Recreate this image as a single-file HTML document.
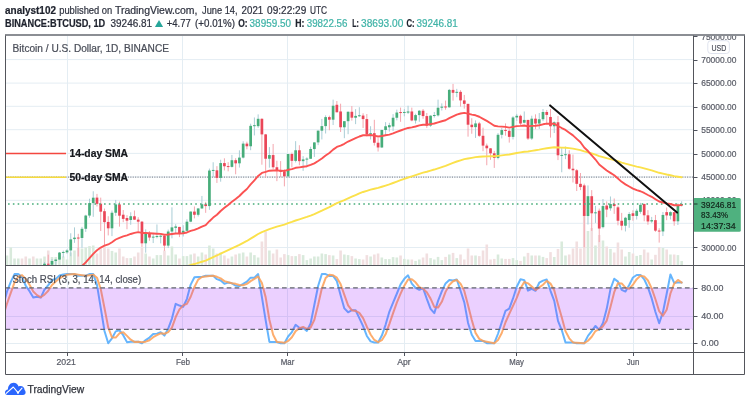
<!DOCTYPE html>
<html><head><meta charset="utf-8"><title>BTCUSD chart</title>
<style>html,body{margin:0;padding:0;background:#fff;width:750px;height:404px;overflow:hidden;font-family:"Liberation Sans",sans-serif}</style>
</head><body>
<svg width="750" height="404" viewBox="0 0 750 404" style="position:absolute;left:0;top:0;font-family:'Liberation Sans',sans-serif;filter:blur(0.35px)">
<defs>
<clipPath id="cm"><rect x="5.5" y="35.5" width="688.0" height="230.0"/></clipPath>
<clipPath id="cs"><rect x="5.5" y="265.5" width="688.0" height="87.0"/></clipPath>
</defs>
<rect x="0" y="0" width="750" height="404" fill="#ffffff"/>
<text x="5" y="13.8" font-size="10.5" fill="#1e222d" font-weight="bold" text-anchor="start" textLength="51" lengthAdjust="spacingAndGlyphs"  stroke="#1e222d" stroke-width="0.22">analyst102</text>
<text x="59.2" y="13.8" font-size="10.5" fill="#2f3340" font-weight="normal" text-anchor="start" textLength="53.1" lengthAdjust="spacingAndGlyphs"  stroke="#2f3340" stroke-width="0.22">published on</text>
<text x="114.9" y="13.8" font-size="10.5" fill="#2f3340" font-weight="normal" text-anchor="start" textLength="82.6" lengthAdjust="spacingAndGlyphs"  stroke="#2f3340" stroke-width="0.22">TradingView.com,</text>
<text x="202" y="13.8" font-size="10.5" fill="#2f3340" font-weight="normal" text-anchor="start" textLength="35.6" lengthAdjust="spacingAndGlyphs"  stroke="#2f3340" stroke-width="0.22">June 14,</text>
<text x="241.6" y="13.8" font-size="10.5" fill="#2f3340" font-weight="normal" text-anchor="start" textLength="21.6" lengthAdjust="spacingAndGlyphs"  stroke="#2f3340" stroke-width="0.22">2021</text>
<text x="267.1" y="13.8" font-size="10.5" fill="#2f3340" font-weight="normal" text-anchor="start" textLength="39.2" lengthAdjust="spacingAndGlyphs"  stroke="#2f3340" stroke-width="0.22">09:22:29</text>
<text x="309.9" y="13.8" font-size="10.5" fill="#2f3340" font-weight="normal" text-anchor="start" textLength="17.1" lengthAdjust="spacingAndGlyphs"  stroke="#2f3340" stroke-width="0.22">UTC</text>
<text x="5" y="27.3" font-size="10.6" fill="#1e222d" font-weight="bold" text-anchor="start" textLength="100.2" lengthAdjust="spacingAndGlyphs"  stroke="#1e222d" stroke-width="0.22">BINANCE:BTCUSD, 1D</text>
<text x="110.5" y="27.3" font-size="10.6" fill="#2f3340" font-weight="normal" text-anchor="start" textLength="41.6" lengthAdjust="spacingAndGlyphs"  stroke="#2f3340" stroke-width="0.22">39246.81</text>
<path d="M154.9 27 L159 19.9 L163.1 27 Z" fill="#26a69a"/>
<text x="166.7" y="27.3" font-size="10.6" fill="#2f3340" font-weight="normal" text-anchor="start" textLength="24.1" lengthAdjust="spacingAndGlyphs"  stroke="#2f3340" stroke-width="0.22">+4.77</text>
<text x="195.1" y="27.3" font-size="10.6" fill="#2f3340" font-weight="normal" text-anchor="start" textLength="39.8" lengthAdjust="spacingAndGlyphs"  stroke="#2f3340" stroke-width="0.22">(+0.01%)</text>
<text x="238.3" y="27.3" font-size="10.6" fill="#1e222d" font-weight="bold" text-anchor="start" textLength="9.4" lengthAdjust="spacingAndGlyphs"  stroke="#1e222d" stroke-width="0.22">O:</text>
<text x="249.6" y="27.3" font-size="10.6" fill="#3fb3a7" font-weight="normal" text-anchor="start" textLength="41.4" lengthAdjust="spacingAndGlyphs"  stroke="#3fb3a7" stroke-width="0.22">38959.50</text>
<text x="295.3" y="27.3" font-size="10.6" fill="#1e222d" font-weight="bold" text-anchor="start" textLength="9.2" lengthAdjust="spacingAndGlyphs"  stroke="#1e222d" stroke-width="0.22">H:</text>
<text x="306.7" y="27.3" font-size="10.6" fill="#3fb3a7" font-weight="normal" text-anchor="start" textLength="40.8" lengthAdjust="spacingAndGlyphs"  stroke="#3fb3a7" stroke-width="0.22">39822.56</text>
<text x="352.3" y="27.3" font-size="10.6" fill="#1e222d" font-weight="bold" text-anchor="start" textLength="6.6" lengthAdjust="spacingAndGlyphs"  stroke="#1e222d" stroke-width="0.22">L:</text>
<text x="361.1" y="27.3" font-size="10.6" fill="#3fb3a7" font-weight="normal" text-anchor="start" textLength="42.2" lengthAdjust="spacingAndGlyphs"  stroke="#3fb3a7" stroke-width="0.22">38693.00</text>
<text x="406.5" y="27.3" font-size="10.6" fill="#1e222d" font-weight="bold" text-anchor="start" textLength="8.2" lengthAdjust="spacingAndGlyphs"  stroke="#1e222d" stroke-width="0.22">C:</text>
<text x="416.5" y="27.3" font-size="10.6" fill="#3fb3a7" font-weight="normal" text-anchor="start" textLength="41.2" lengthAdjust="spacingAndGlyphs"  stroke="#3fb3a7" stroke-width="0.22">39246.81</text>
<line x1="67.5" y1="35.5" x2="67.5" y2="352.5" stroke="#e4edf3" stroke-width="1"/>
<line x1="182.5" y1="35.5" x2="182.5" y2="352.5" stroke="#e4edf3" stroke-width="1"/>
<line x1="287.5" y1="35.5" x2="287.5" y2="352.5" stroke="#e4edf3" stroke-width="1"/>
<line x1="404.5" y1="35.5" x2="404.5" y2="352.5" stroke="#e4edf3" stroke-width="1"/>
<line x1="516.5" y1="35.5" x2="516.5" y2="352.5" stroke="#e4edf3" stroke-width="1"/>
<line x1="633.5" y1="35.5" x2="633.5" y2="352.5" stroke="#e4edf3" stroke-width="1"/>
<line x1="5.5" y1="59.6" x2="693.5" y2="59.6" stroke="#e4edf3" stroke-width="1"/>
<line x1="5.5" y1="83.1" x2="693.5" y2="83.1" stroke="#e4edf3" stroke-width="1"/>
<line x1="5.5" y1="106.3" x2="693.5" y2="106.3" stroke="#e4edf3" stroke-width="1"/>
<line x1="5.5" y1="129.7" x2="693.5" y2="129.7" stroke="#e4edf3" stroke-width="1"/>
<line x1="5.5" y1="153.4" x2="693.5" y2="153.4" stroke="#e4edf3" stroke-width="1"/>
<line x1="5.5" y1="176.9" x2="693.5" y2="176.9" stroke="#e4edf3" stroke-width="1"/>
<line x1="5.5" y1="200.3" x2="693.5" y2="200.3" stroke="#e4edf3" stroke-width="1"/>
<line x1="5.5" y1="223.3" x2="693.5" y2="223.3" stroke="#e4edf3" stroke-width="1"/>
<line x1="5.5" y1="247.5" x2="693.5" y2="247.5" stroke="#e4edf3" stroke-width="1"/>
<line x1="5.5" y1="343.5" x2="693.5" y2="343.5" stroke="#e4edf3" stroke-width="1"/>
<line x1="5.5" y1="316.5" x2="693.5" y2="316.5" stroke="#e4edf3" stroke-width="1"/>
<line x1="5.5" y1="288.5" x2="693.5" y2="288.5" stroke="#e4edf3" stroke-width="1"/>
<g clip-path="url(#cm)">
<rect x="1.98" y="259.68" width="2.6" height="5.82" fill="#d9eadc"/>
<rect x="5.73" y="255.50" width="2.6" height="10.00" fill="#d9eadc"/>
<rect x="9.48" y="247.50" width="2.6" height="18.00" fill="#d9eadc"/>
<rect x="13.23" y="258.50" width="2.6" height="7.00" fill="#d9eadc"/>
<rect x="16.98" y="258.50" width="2.6" height="7.00" fill="#d9eadc"/>
<rect x="20.72" y="258.50" width="2.6" height="7.00" fill="#f1dfe0"/>
<rect x="24.47" y="256.50" width="2.6" height="9.00" fill="#f1dfe0"/>
<rect x="28.22" y="258.50" width="2.6" height="7.00" fill="#d9eadc"/>
<rect x="31.97" y="256.50" width="2.6" height="9.00" fill="#f1dfe0"/>
<rect x="35.72" y="258.50" width="2.6" height="7.00" fill="#d9eadc"/>
<rect x="39.46" y="258.50" width="2.6" height="7.00" fill="#d9eadc"/>
<rect x="43.21" y="256.50" width="2.6" height="9.00" fill="#d9eadc"/>
<rect x="46.96" y="250.50" width="2.6" height="15.00" fill="#f1dfe0"/>
<rect x="50.71" y="257.00" width="2.6" height="8.50" fill="#d9eadc"/>
<rect x="54.46" y="257.00" width="2.6" height="8.50" fill="#d9eadc"/>
<rect x="58.20" y="257.50" width="2.6" height="8.00" fill="#d9eadc"/>
<rect x="61.95" y="256.50" width="2.6" height="9.00" fill="#d9eadc"/>
<rect x="65.70" y="259.50" width="2.6" height="6.00" fill="#d9eadc"/>
<rect x="69.45" y="252.50" width="2.6" height="13.00" fill="#d9eadc"/>
<rect x="73.20" y="250.50" width="2.6" height="15.00" fill="#d9eadc"/>
<rect x="76.94" y="247.80" width="2.6" height="17.70" fill="#f1dfe0"/>
<rect x="80.69" y="248.50" width="2.6" height="17.00" fill="#d9eadc"/>
<rect x="84.44" y="247.50" width="2.6" height="18.00" fill="#d9eadc"/>
<rect x="88.19" y="246.10" width="2.6" height="19.40" fill="#d9eadc"/>
<rect x="91.94" y="245.50" width="2.6" height="20.00" fill="#d9eadc"/>
<rect x="95.68" y="253.50" width="2.6" height="12.00" fill="#f1dfe0"/>
<rect x="99.43" y="248.50" width="2.6" height="17.00" fill="#f1dfe0"/>
<rect x="103.18" y="246.50" width="2.6" height="19.00" fill="#f1dfe0"/>
<rect x="106.93" y="248.50" width="2.6" height="17.00" fill="#f1dfe0"/>
<rect x="110.68" y="250.90" width="2.6" height="14.60" fill="#d9eadc"/>
<rect x="114.42" y="252.50" width="2.6" height="13.00" fill="#d9eadc"/>
<rect x="118.17" y="248.50" width="2.6" height="17.00" fill="#f1dfe0"/>
<rect x="121.92" y="256.50" width="2.6" height="9.00" fill="#f1dfe0"/>
<rect x="125.67" y="258.10" width="2.6" height="7.40" fill="#f1dfe0"/>
<rect x="129.42" y="258.10" width="2.6" height="7.40" fill="#d9eadc"/>
<rect x="133.16" y="256.50" width="2.6" height="9.00" fill="#f1dfe0"/>
<rect x="136.91" y="252.50" width="2.6" height="13.00" fill="#f1dfe0"/>
<rect x="140.66" y="247.50" width="2.6" height="18.00" fill="#f1dfe0"/>
<rect x="144.41" y="253.50" width="2.6" height="12.00" fill="#d9eadc"/>
<rect x="148.16" y="256.50" width="2.6" height="9.00" fill="#f1dfe0"/>
<rect x="151.90" y="258.50" width="2.6" height="7.00" fill="#d9eadc"/>
<rect x="155.65" y="255.10" width="2.6" height="10.40" fill="#d9eadc"/>
<rect x="159.40" y="255.10" width="2.6" height="10.40" fill="#d9eadc"/>
<rect x="163.15" y="250.50" width="2.6" height="15.00" fill="#f1dfe0"/>
<rect x="166.90" y="255.50" width="2.6" height="10.00" fill="#d9eadc"/>
<rect x="170.64" y="246.50" width="2.6" height="19.00" fill="#d9eadc"/>
<rect x="174.39" y="254.50" width="2.6" height="11.00" fill="#d9eadc"/>
<rect x="178.14" y="258.50" width="2.6" height="7.00" fill="#f1dfe0"/>
<rect x="181.89" y="256.10" width="2.6" height="9.40" fill="#d9eadc"/>
<rect x="185.64" y="256.10" width="2.6" height="9.40" fill="#d9eadc"/>
<rect x="189.38" y="254.50" width="2.6" height="11.00" fill="#d9eadc"/>
<rect x="193.13" y="253.50" width="2.6" height="12.00" fill="#f1dfe0"/>
<rect x="196.88" y="256.50" width="2.6" height="9.00" fill="#d9eadc"/>
<rect x="200.63" y="252.50" width="2.6" height="13.00" fill="#d9eadc"/>
<rect x="204.38" y="254.50" width="2.6" height="11.00" fill="#f1dfe0"/>
<rect x="208.12" y="245.50" width="2.6" height="20.00" fill="#d9eadc"/>
<rect x="211.87" y="248.50" width="2.6" height="17.00" fill="#d9eadc"/>
<rect x="215.62" y="253.50" width="2.6" height="12.00" fill="#f1dfe0"/>
<rect x="219.37" y="252.50" width="2.6" height="13.00" fill="#d9eadc"/>
<rect x="223.12" y="255.50" width="2.6" height="10.00" fill="#f1dfe0"/>
<rect x="226.86" y="258.50" width="2.6" height="7.00" fill="#f1dfe0"/>
<rect x="230.61" y="256.50" width="2.6" height="9.00" fill="#d9eadc"/>
<rect x="234.36" y="254.50" width="2.6" height="11.00" fill="#f1dfe0"/>
<rect x="238.11" y="253.50" width="2.6" height="12.00" fill="#d9eadc"/>
<rect x="241.86" y="252.50" width="2.6" height="13.00" fill="#d9eadc"/>
<rect x="245.60" y="256.50" width="2.6" height="9.00" fill="#f1dfe0"/>
<rect x="249.35" y="252.50" width="2.6" height="13.00" fill="#d9eadc"/>
<rect x="253.10" y="255.10" width="2.6" height="10.40" fill="#d9eadc"/>
<rect x="256.85" y="257.50" width="2.6" height="8.00" fill="#d9eadc"/>
<rect x="260.60" y="241.50" width="2.6" height="24.00" fill="#f1dfe0"/>
<rect x="264.34" y="231.50" width="2.6" height="34.00" fill="#f1dfe0"/>
<rect x="268.09" y="250.50" width="2.6" height="15.00" fill="#d9eadc"/>
<rect x="271.84" y="253.50" width="2.6" height="12.00" fill="#f1dfe0"/>
<rect x="275.59" y="249.50" width="2.6" height="16.00" fill="#f1dfe0"/>
<rect x="279.34" y="257.50" width="2.6" height="8.00" fill="#f1dfe0"/>
<rect x="283.08" y="254.10" width="2.6" height="11.40" fill="#f1dfe0"/>
<rect x="286.83" y="255.10" width="2.6" height="10.40" fill="#d9eadc"/>
<rect x="290.58" y="256.10" width="2.6" height="9.40" fill="#f1dfe0"/>
<rect x="294.33" y="256.10" width="2.6" height="9.40" fill="#d9eadc"/>
<rect x="298.08" y="254.10" width="2.6" height="11.40" fill="#f1dfe0"/>
<rect x="301.82" y="255.10" width="2.6" height="10.40" fill="#d9eadc"/>
<rect x="305.57" y="260.10" width="2.6" height="5.40" fill="#d9eadc"/>
<rect x="309.32" y="258.50" width="2.6" height="7.00" fill="#d9eadc"/>
<rect x="313.07" y="256.50" width="2.6" height="9.00" fill="#d9eadc"/>
<rect x="316.82" y="256.50" width="2.6" height="9.00" fill="#d9eadc"/>
<rect x="320.56" y="253.50" width="2.6" height="12.00" fill="#d9eadc"/>
<rect x="324.31" y="254.10" width="2.6" height="11.40" fill="#d9eadc"/>
<rect x="328.06" y="255.10" width="2.6" height="10.40" fill="#f1dfe0"/>
<rect x="331.81" y="255.50" width="2.6" height="10.00" fill="#d9eadc"/>
<rect x="335.56" y="259.10" width="2.6" height="6.40" fill="#f1dfe0"/>
<rect x="339.30" y="250.50" width="2.6" height="15.00" fill="#f1dfe0"/>
<rect x="343.05" y="254.50" width="2.6" height="11.00" fill="#d9eadc"/>
<rect x="346.80" y="255.10" width="2.6" height="10.40" fill="#d9eadc"/>
<rect x="350.55" y="256.10" width="2.6" height="9.40" fill="#f1dfe0"/>
<rect x="354.30" y="258.50" width="2.6" height="7.00" fill="#d9eadc"/>
<rect x="358.04" y="259.10" width="2.6" height="6.40" fill="#d9eadc"/>
<rect x="361.79" y="259.50" width="2.6" height="6.00" fill="#f1dfe0"/>
<rect x="365.54" y="255.10" width="2.6" height="10.40" fill="#f1dfe0"/>
<rect x="369.29" y="256.50" width="2.6" height="9.00" fill="#d9eadc"/>
<rect x="373.04" y="254.50" width="2.6" height="11.00" fill="#f1dfe0"/>
<rect x="376.78" y="253.50" width="2.6" height="12.00" fill="#f1dfe0"/>
<rect x="380.53" y="257.50" width="2.6" height="8.00" fill="#d9eadc"/>
<rect x="384.28" y="259.10" width="2.6" height="6.40" fill="#d9eadc"/>
<rect x="388.03" y="259.10" width="2.6" height="6.40" fill="#d9eadc"/>
<rect x="391.78" y="257.10" width="2.6" height="8.40" fill="#d9eadc"/>
<rect x="395.52" y="257.50" width="2.6" height="8.00" fill="#d9eadc"/>
<rect x="399.27" y="255.50" width="2.6" height="10.00" fill="#f1dfe0"/>
<rect x="403.02" y="258.90" width="2.6" height="6.60" fill="#d9eadc"/>
<rect x="406.77" y="259.50" width="2.6" height="6.00" fill="#d9eadc"/>
<rect x="410.52" y="259.50" width="2.6" height="6.00" fill="#f1dfe0"/>
<rect x="414.26" y="260.90" width="2.6" height="4.60" fill="#d9eadc"/>
<rect x="418.01" y="259.50" width="2.6" height="6.00" fill="#d9eadc"/>
<rect x="421.76" y="257.50" width="2.6" height="8.00" fill="#f1dfe0"/>
<rect x="425.51" y="253.50" width="2.6" height="12.00" fill="#f1dfe0"/>
<rect x="429.26" y="258.10" width="2.6" height="7.40" fill="#d9eadc"/>
<rect x="433.00" y="259.50" width="2.6" height="6.00" fill="#d9eadc"/>
<rect x="436.75" y="256.90" width="2.6" height="8.60" fill="#d9eadc"/>
<rect x="440.50" y="260.10" width="2.6" height="5.40" fill="#d9eadc"/>
<rect x="444.25" y="256.90" width="2.6" height="8.60" fill="#f1dfe0"/>
<rect x="448.00" y="254.50" width="2.6" height="11.00" fill="#d9eadc"/>
<rect x="451.74" y="252.90" width="2.6" height="12.60" fill="#f1dfe0"/>
<rect x="455.49" y="258.10" width="2.6" height="7.40" fill="#d9eadc"/>
<rect x="459.24" y="254.50" width="2.6" height="11.00" fill="#f1dfe0"/>
<rect x="462.99" y="259.50" width="2.6" height="6.00" fill="#f1dfe0"/>
<rect x="466.74" y="248.50" width="2.6" height="17.00" fill="#f1dfe0"/>
<rect x="470.48" y="255.50" width="2.6" height="10.00" fill="#f1dfe0"/>
<rect x="474.23" y="255.50" width="2.6" height="10.00" fill="#d9eadc"/>
<rect x="477.98" y="256.10" width="2.6" height="9.40" fill="#f1dfe0"/>
<rect x="481.73" y="250.50" width="2.6" height="15.00" fill="#f1dfe0"/>
<rect x="485.48" y="244.50" width="2.6" height="21.00" fill="#f1dfe0"/>
<rect x="489.22" y="259.50" width="2.6" height="6.00" fill="#f1dfe0"/>
<rect x="492.97" y="258.90" width="2.6" height="6.60" fill="#f1dfe0"/>
<rect x="496.72" y="254.50" width="2.6" height="11.00" fill="#d9eadc"/>
<rect x="500.47" y="258.50" width="2.6" height="7.00" fill="#d9eadc"/>
<rect x="504.22" y="258.90" width="2.6" height="6.60" fill="#f1dfe0"/>
<rect x="507.96" y="258.90" width="2.6" height="6.60" fill="#f1dfe0"/>
<rect x="511.71" y="258.10" width="2.6" height="7.40" fill="#d9eadc"/>
<rect x="515.46" y="260.10" width="2.6" height="5.40" fill="#d9eadc"/>
<rect x="519.21" y="260.90" width="2.6" height="4.60" fill="#f1dfe0"/>
<rect x="522.96" y="256.50" width="2.6" height="9.00" fill="#d9eadc"/>
<rect x="526.70" y="252.90" width="2.6" height="12.60" fill="#f1dfe0"/>
<rect x="530.45" y="255.50" width="2.6" height="10.00" fill="#d9eadc"/>
<rect x="534.20" y="255.50" width="2.6" height="10.00" fill="#f1dfe0"/>
<rect x="537.95" y="255.50" width="2.6" height="10.00" fill="#d9eadc"/>
<rect x="541.70" y="256.90" width="2.6" height="8.60" fill="#d9eadc"/>
<rect x="545.44" y="258.10" width="2.6" height="7.40" fill="#f1dfe0"/>
<rect x="549.19" y="252.10" width="2.6" height="13.40" fill="#f1dfe0"/>
<rect x="552.94" y="257.00" width="2.6" height="8.50" fill="#d9eadc"/>
<rect x="556.69" y="249.00" width="2.6" height="16.50" fill="#f1dfe0"/>
<rect x="560.44" y="241.50" width="2.6" height="24.00" fill="#d9eadc"/>
<rect x="564.18" y="255.50" width="2.6" height="10.00" fill="#d9eadc"/>
<rect x="567.93" y="254.50" width="2.6" height="11.00" fill="#f1dfe0"/>
<rect x="571.68" y="248.50" width="2.6" height="17.00" fill="#f1dfe0"/>
<rect x="575.43" y="241.50" width="2.6" height="24.00" fill="#f1dfe0"/>
<rect x="579.18" y="248.50" width="2.6" height="17.00" fill="#f1dfe0"/>
<rect x="582.92" y="213.50" width="2.6" height="52.00" fill="#f1dfe0"/>
<rect x="586.67" y="231.00" width="2.6" height="34.50" fill="#d9eadc"/>
<rect x="590.42" y="228.00" width="2.6" height="37.50" fill="#f1dfe0"/>
<rect x="594.17" y="245.50" width="2.6" height="20.00" fill="#d9eadc"/>
<rect x="597.92" y="235.00" width="2.6" height="30.50" fill="#f1dfe0"/>
<rect x="601.66" y="240.50" width="2.6" height="25.00" fill="#d9eadc"/>
<rect x="605.41" y="246.50" width="2.6" height="19.00" fill="#f1dfe0"/>
<rect x="609.16" y="248.90" width="2.6" height="16.60" fill="#d9eadc"/>
<rect x="612.91" y="252.50" width="2.6" height="13.00" fill="#f1dfe0"/>
<rect x="616.66" y="242.50" width="2.6" height="23.00" fill="#f1dfe0"/>
<rect x="620.40" y="249.50" width="2.6" height="16.00" fill="#f1dfe0"/>
<rect x="624.15" y="256.50" width="2.6" height="9.00" fill="#d9eadc"/>
<rect x="627.90" y="252.00" width="2.6" height="13.50" fill="#d9eadc"/>
<rect x="631.65" y="253.50" width="2.6" height="12.00" fill="#f1dfe0"/>
<rect x="635.40" y="255.90" width="2.6" height="9.60" fill="#d9eadc"/>
<rect x="639.14" y="255.02" width="2.6" height="10.48" fill="#d9eadc"/>
<rect x="642.89" y="249.50" width="2.6" height="16.00" fill="#f1dfe0"/>
<rect x="646.64" y="252.50" width="2.6" height="13.00" fill="#f1dfe0"/>
<rect x="650.39" y="259.50" width="2.6" height="6.00" fill="#d9eadc"/>
<rect x="654.14" y="254.80" width="2.6" height="10.70" fill="#f1dfe0"/>
<rect x="657.88" y="247.00" width="2.6" height="18.50" fill="#f1dfe0"/>
<rect x="661.63" y="248.00" width="2.6" height="17.50" fill="#d9eadc"/>
<rect x="665.38" y="249.50" width="2.6" height="16.00" fill="#f1dfe0"/>
<rect x="669.13" y="254.50" width="2.6" height="11.00" fill="#d9eadc"/>
<rect x="672.88" y="254.50" width="2.6" height="11.00" fill="#f1dfe0"/>
<rect x="676.62" y="255.10" width="2.6" height="10.40" fill="#d9eadc"/>
<rect x="680.37" y="261.00" width="2.6" height="4.50" fill="#d9eadc"/>
</g>
<line x1="5.5" y1="177.2" x2="693.5" y2="177.2" stroke="#8b8e99" stroke-width="1.3" stroke-dasharray="1.1 1.3"/>
<g clip-path="url(#cm)">
<line x1="3.28" y1="296.20" x2="3.28" y2="298.63" stroke="#a9cdd6" stroke-width="1"/>
<rect x="1.93" y="296.73" width="2.7" height="1.00" fill="#47ad7a"/>
<line x1="7.03" y1="286.87" x2="7.03" y2="297.56" stroke="#a9cdd6" stroke-width="1"/>
<rect x="5.68" y="287.92" width="2.7" height="8.95" fill="#47ad7a"/>
<line x1="10.78" y1="276.37" x2="10.78" y2="288.41" stroke="#a9cdd6" stroke-width="1"/>
<rect x="9.43" y="281.07" width="2.7" height="6.85" fill="#47ad7a"/>
<line x1="14.53" y1="278.78" x2="14.53" y2="283.16" stroke="#a9cdd6" stroke-width="1"/>
<rect x="13.18" y="279.61" width="2.7" height="1.45" fill="#47ad7a"/>
<line x1="18.28" y1="274.63" x2="18.28" y2="281.29" stroke="#a9cdd6" stroke-width="1"/>
<rect x="16.93" y="276.27" width="2.7" height="3.35" fill="#47ad7a"/>
<line x1="22.02" y1="274.05" x2="22.02" y2="279.83" stroke="#f4a6ae" stroke-width="1"/>
<rect x="20.67" y="276.27" width="2.7" height="1.72" fill="#ea4658"/>
<line x1="25.77" y1="274.95" x2="25.77" y2="285.67" stroke="#f4a6ae" stroke-width="1"/>
<rect x="24.42" y="277.98" width="2.7" height="3.45" fill="#ea4658"/>
<line x1="29.52" y1="276.19" x2="29.52" y2="283.15" stroke="#a9cdd6" stroke-width="1"/>
<rect x="28.17" y="276.32" width="2.7" height="5.11" fill="#47ad7a"/>
<line x1="33.27" y1="274.96" x2="33.27" y2="281.99" stroke="#f4a6ae" stroke-width="1"/>
<rect x="31.92" y="276.32" width="2.7" height="2.71" fill="#ea4658"/>
<line x1="37.02" y1="276.39" x2="37.02" y2="281.51" stroke="#a9cdd6" stroke-width="1"/>
<rect x="35.67" y="276.70" width="2.7" height="2.33" fill="#47ad7a"/>
<line x1="40.76" y1="271.73" x2="40.76" y2="278.09" stroke="#a9cdd6" stroke-width="1"/>
<rect x="39.41" y="272.09" width="2.7" height="4.61" fill="#47ad7a"/>
<line x1="44.51" y1="261.99" x2="44.51" y2="273.08" stroke="#a9cdd6" stroke-width="1"/>
<rect x="43.16" y="263.74" width="2.7" height="8.35" fill="#47ad7a"/>
<line x1="48.26" y1="254.70" x2="48.26" y2="267.46" stroke="#f4a6ae" stroke-width="1"/>
<rect x="46.91" y="263.74" width="2.7" height="1.00" fill="#ea4658"/>
<line x1="52.01" y1="259.02" x2="52.01" y2="265.58" stroke="#a9cdd6" stroke-width="1"/>
<rect x="50.66" y="260.99" width="2.7" height="3.74" fill="#47ad7a"/>
<line x1="55.76" y1="259.44" x2="55.76" y2="266.61" stroke="#a9cdd6" stroke-width="1"/>
<rect x="54.41" y="259.56" width="2.7" height="1.43" fill="#47ad7a"/>
<line x1="59.50" y1="252.01" x2="59.50" y2="259.86" stroke="#a9cdd6" stroke-width="1"/>
<rect x="58.15" y="252.57" width="2.7" height="6.99" fill="#47ad7a"/>
<line x1="63.25" y1="250.58" x2="63.25" y2="257.38" stroke="#a9cdd6" stroke-width="1"/>
<rect x="61.90" y="251.96" width="2.7" height="1.00" fill="#47ad7a"/>
<line x1="67.00" y1="249.18" x2="67.00" y2="253.75" stroke="#a9cdd6" stroke-width="1"/>
<rect x="65.65" y="250.44" width="2.7" height="1.91" fill="#47ad7a"/>
<line x1="70.75" y1="233.28" x2="70.75" y2="256.21" stroke="#a9cdd6" stroke-width="1"/>
<rect x="69.40" y="239.38" width="2.7" height="11.06" fill="#47ad7a"/>
<line x1="74.50" y1="227.38" x2="74.50" y2="242.85" stroke="#a9cdd6" stroke-width="1"/>
<rect x="73.15" y="237.64" width="2.7" height="1.45" fill="#47ad7a"/>
<line x1="78.24" y1="233.80" x2="78.24" y2="256.49" stroke="#f4a6ae" stroke-width="1"/>
<rect x="76.89" y="237.54" width="2.7" height="1.00" fill="#ea4658"/>
<line x1="81.99" y1="226.86" x2="81.99" y2="247.77" stroke="#a9cdd6" stroke-width="1"/>
<rect x="80.64" y="228.79" width="2.7" height="9.19" fill="#47ad7a"/>
<line x1="85.74" y1="214.77" x2="85.74" y2="231.89" stroke="#a9cdd6" stroke-width="1"/>
<rect x="84.39" y="215.57" width="2.7" height="13.22" fill="#47ad7a"/>
<line x1="89.49" y1="198.71" x2="89.49" y2="217.77" stroke="#a9cdd6" stroke-width="1"/>
<rect x="88.14" y="203.08" width="2.7" height="12.48" fill="#47ad7a"/>
<line x1="93.24" y1="191.28" x2="93.24" y2="216.83" stroke="#a9cdd6" stroke-width="1"/>
<rect x="91.89" y="197.69" width="2.7" height="5.39" fill="#47ad7a"/>
<line x1="96.98" y1="193.90" x2="96.98" y2="206.51" stroke="#f4a6ae" stroke-width="1"/>
<rect x="95.63" y="197.61" width="2.7" height="6.24" fill="#ea4658"/>
<line x1="100.73" y1="197.61" x2="100.73" y2="231.03" stroke="#f4a6ae" stroke-width="1"/>
<rect x="99.38" y="203.70" width="2.7" height="7.97" fill="#ea4658"/>
<line x1="104.48" y1="208.56" x2="104.48" y2="245.33" stroke="#f4a6ae" stroke-width="1"/>
<rect x="103.13" y="211.20" width="2.7" height="10.92" fill="#ea4658"/>
<line x1="108.23" y1="216.23" x2="108.23" y2="235.43" stroke="#f4a6ae" stroke-width="1"/>
<rect x="106.88" y="221.94" width="2.7" height="6.37" fill="#ea4658"/>
<line x1="111.98" y1="210.50" x2="111.98" y2="236.14" stroke="#a9cdd6" stroke-width="1"/>
<rect x="110.63" y="212.74" width="2.7" height="15.57" fill="#47ad7a"/>
<line x1="115.72" y1="199.95" x2="115.72" y2="215.89" stroke="#a9cdd6" stroke-width="1"/>
<rect x="114.37" y="204.43" width="2.7" height="8.31" fill="#47ad7a"/>
<line x1="119.47" y1="201.61" x2="119.47" y2="226.64" stroke="#f4a6ae" stroke-width="1"/>
<rect x="118.12" y="204.43" width="2.7" height="11.27" fill="#ea4658"/>
<line x1="123.22" y1="210.03" x2="123.22" y2="222.19" stroke="#f4a6ae" stroke-width="1"/>
<rect x="121.87" y="214.72" width="2.7" height="4.17" fill="#ea4658"/>
<line x1="126.97" y1="215.18" x2="126.97" y2="229.25" stroke="#f4a6ae" stroke-width="1"/>
<rect x="125.62" y="218.00" width="2.7" height="2.67" fill="#ea4658"/>
<line x1="130.72" y1="212.29" x2="130.72" y2="224.80" stroke="#a9cdd6" stroke-width="1"/>
<rect x="129.37" y="216.21" width="2.7" height="3.78" fill="#47ad7a"/>
<line x1="134.46" y1="210.50" x2="134.46" y2="219.90" stroke="#f4a6ae" stroke-width="1"/>
<rect x="133.11" y="216.26" width="2.7" height="3.43" fill="#ea4658"/>
<line x1="138.21" y1="217.23" x2="138.21" y2="231.36" stroke="#f4a6ae" stroke-width="1"/>
<rect x="136.86" y="219.64" width="2.7" height="2.03" fill="#ea4658"/>
<line x1="141.96" y1="221.05" x2="141.96" y2="246.97" stroke="#f4a6ae" stroke-width="1"/>
<rect x="140.61" y="221.67" width="2.7" height="21.65" fill="#ea4658"/>
<line x1="145.71" y1="229.36" x2="145.71" y2="252.69" stroke="#a9cdd6" stroke-width="1"/>
<rect x="144.36" y="233.49" width="2.7" height="9.82" fill="#47ad7a"/>
<line x1="149.46" y1="231.10" x2="149.46" y2="240.78" stroke="#f4a6ae" stroke-width="1"/>
<rect x="148.11" y="233.47" width="2.7" height="4.09" fill="#ea4658"/>
<line x1="153.20" y1="232.90" x2="153.20" y2="243.08" stroke="#a9cdd6" stroke-width="1"/>
<rect x="151.85" y="236.63" width="2.7" height="1.00" fill="#47ad7a"/>
<line x1="156.95" y1="224.45" x2="156.95" y2="238.35" stroke="#a9cdd6" stroke-width="1"/>
<rect x="155.60" y="236.04" width="2.7" height="1.00" fill="#47ad7a"/>
<line x1="160.70" y1="233.61" x2="160.70" y2="243.38" stroke="#a9cdd6" stroke-width="1"/>
<rect x="159.35" y="235.73" width="2.7" height="1.00" fill="#47ad7a"/>
<line x1="164.45" y1="235.31" x2="164.45" y2="250.86" stroke="#f4a6ae" stroke-width="1"/>
<rect x="163.10" y="235.75" width="2.7" height="9.84" fill="#ea4658"/>
<line x1="168.20" y1="229.57" x2="168.20" y2="248.04" stroke="#a9cdd6" stroke-width="1"/>
<rect x="166.85" y="231.53" width="2.7" height="14.07" fill="#47ad7a"/>
<line x1="171.94" y1="207.31" x2="171.94" y2="238.32" stroke="#a9cdd6" stroke-width="1"/>
<rect x="170.59" y="227.37" width="2.7" height="4.14" fill="#47ad7a"/>
<line x1="175.69" y1="224.17" x2="175.69" y2="234.06" stroke="#a9cdd6" stroke-width="1"/>
<rect x="174.34" y="226.44" width="2.7" height="1.41" fill="#47ad7a"/>
<line x1="179.44" y1="226.91" x2="179.44" y2="237.12" stroke="#f4a6ae" stroke-width="1"/>
<rect x="178.09" y="226.91" width="2.7" height="6.80" fill="#ea4658"/>
<line x1="183.19" y1="225.19" x2="183.19" y2="236.54" stroke="#a9cdd6" stroke-width="1"/>
<rect x="181.84" y="230.77" width="2.7" height="2.05" fill="#47ad7a"/>
<line x1="186.94" y1="219.25" x2="186.94" y2="231.28" stroke="#a9cdd6" stroke-width="1"/>
<rect x="185.59" y="221.68" width="2.7" height="9.14" fill="#47ad7a"/>
<line x1="190.68" y1="211.38" x2="190.68" y2="222.16" stroke="#a9cdd6" stroke-width="1"/>
<rect x="189.33" y="211.59" width="2.7" height="10.06" fill="#47ad7a"/>
<line x1="194.43" y1="206.48" x2="194.43" y2="218.42" stroke="#f4a6ae" stroke-width="1"/>
<rect x="193.08" y="211.58" width="2.7" height="3.21" fill="#ea4658"/>
<line x1="198.18" y1="208.34" x2="198.18" y2="216.50" stroke="#a9cdd6" stroke-width="1"/>
<rect x="196.83" y="208.44" width="2.7" height="6.35" fill="#47ad7a"/>
<line x1="201.93" y1="195.94" x2="201.93" y2="208.79" stroke="#a9cdd6" stroke-width="1"/>
<rect x="200.58" y="204.24" width="2.7" height="4.21" fill="#47ad7a"/>
<line x1="205.68" y1="201.83" x2="205.68" y2="212.84" stroke="#f4a6ae" stroke-width="1"/>
<rect x="204.33" y="204.26" width="2.7" height="1.81" fill="#ea4658"/>
<line x1="209.42" y1="168.57" x2="209.42" y2="209.85" stroke="#a9cdd6" stroke-width="1"/>
<rect x="208.07" y="170.54" width="2.7" height="35.53" fill="#47ad7a"/>
<line x1="213.17" y1="162.25" x2="213.17" y2="177.16" stroke="#a9cdd6" stroke-width="1"/>
<rect x="211.82" y="169.93" width="2.7" height="1.00" fill="#47ad7a"/>
<line x1="216.92" y1="166.15" x2="216.92" y2="182.95" stroke="#f4a6ae" stroke-width="1"/>
<rect x="215.57" y="170.32" width="2.7" height="7.56" fill="#ea4658"/>
<line x1="220.67" y1="159.74" x2="220.67" y2="181.70" stroke="#a9cdd6" stroke-width="1"/>
<rect x="219.32" y="163.06" width="2.7" height="14.82" fill="#47ad7a"/>
<line x1="224.42" y1="158.30" x2="224.42" y2="170.42" stroke="#f4a6ae" stroke-width="1"/>
<rect x="223.07" y="163.07" width="2.7" height="3.19" fill="#ea4658"/>
<line x1="228.16" y1="162.21" x2="228.16" y2="171.35" stroke="#f4a6ae" stroke-width="1"/>
<rect x="226.81" y="166.05" width="2.7" height="1.00" fill="#ea4658"/>
<line x1="231.91" y1="154.91" x2="231.91" y2="167.54" stroke="#a9cdd6" stroke-width="1"/>
<rect x="230.56" y="160.21" width="2.7" height="6.66" fill="#47ad7a"/>
<line x1="235.66" y1="158.18" x2="235.66" y2="174.31" stroke="#f4a6ae" stroke-width="1"/>
<rect x="234.31" y="160.20" width="2.7" height="3.14" fill="#ea4658"/>
<line x1="239.41" y1="150.31" x2="239.41" y2="167.59" stroke="#a9cdd6" stroke-width="1"/>
<rect x="238.06" y="157.60" width="2.7" height="5.73" fill="#47ad7a"/>
<line x1="243.16" y1="141.27" x2="243.16" y2="158.48" stroke="#a9cdd6" stroke-width="1"/>
<rect x="241.81" y="143.61" width="2.7" height="14.00" fill="#47ad7a"/>
<line x1="246.90" y1="141.68" x2="246.90" y2="149.32" stroke="#f4a6ae" stroke-width="1"/>
<rect x="245.55" y="143.62" width="2.7" height="2.65" fill="#ea4658"/>
<line x1="250.65" y1="123.69" x2="250.65" y2="150.21" stroke="#a9cdd6" stroke-width="1"/>
<rect x="249.30" y="125.85" width="2.7" height="20.41" fill="#47ad7a"/>
<line x1="254.40" y1="117.44" x2="254.40" y2="135.43" stroke="#a9cdd6" stroke-width="1"/>
<rect x="253.05" y="125.18" width="2.7" height="1.00" fill="#47ad7a"/>
<line x1="258.15" y1="114.39" x2="258.15" y2="127.86" stroke="#a9cdd6" stroke-width="1"/>
<rect x="256.80" y="118.81" width="2.7" height="7.35" fill="#47ad7a"/>
<line x1="261.90" y1="118.34" x2="261.90" y2="164.69" stroke="#f4a6ae" stroke-width="1"/>
<rect x="260.55" y="118.79" width="2.7" height="15.59" fill="#ea4658"/>
<line x1="265.64" y1="133.93" x2="265.64" y2="177.49" stroke="#f4a6ae" stroke-width="1"/>
<rect x="264.29" y="134.38" width="2.7" height="24.36" fill="#ea4658"/>
<line x1="269.39" y1="147.10" x2="269.39" y2="167.66" stroke="#a9cdd6" stroke-width="1"/>
<rect x="268.04" y="155.06" width="2.7" height="3.68" fill="#47ad7a"/>
<line x1="273.14" y1="143.97" x2="273.14" y2="169.13" stroke="#f4a6ae" stroke-width="1"/>
<rect x="271.79" y="155.06" width="2.7" height="12.20" fill="#ea4658"/>
<line x1="276.89" y1="160.74" x2="276.89" y2="181.17" stroke="#f4a6ae" stroke-width="1"/>
<rect x="275.54" y="167.26" width="2.7" height="3.74" fill="#ea4658"/>
<line x1="280.64" y1="161.07" x2="280.64" y2="176.98" stroke="#f4a6ae" stroke-width="1"/>
<rect x="279.29" y="170.90" width="2.7" height="1.00" fill="#ea4658"/>
<line x1="284.38" y1="169.30" x2="284.38" y2="186.36" stroke="#f4a6ae" stroke-width="1"/>
<rect x="283.03" y="171.81" width="2.7" height="4.54" fill="#ea4658"/>
<line x1="288.13" y1="154.01" x2="288.13" y2="177.21" stroke="#a9cdd6" stroke-width="1"/>
<rect x="286.78" y="154.01" width="2.7" height="22.34" fill="#47ad7a"/>
<line x1="291.88" y1="152.60" x2="291.88" y2="167.38" stroke="#f4a6ae" stroke-width="1"/>
<rect x="290.53" y="154.01" width="2.7" height="6.84" fill="#ea4658"/>
<line x1="295.63" y1="141.16" x2="295.63" y2="162.45" stroke="#a9cdd6" stroke-width="1"/>
<rect x="294.28" y="150.26" width="2.7" height="10.61" fill="#47ad7a"/>
<line x1="299.38" y1="145.23" x2="299.38" y2="165.26" stroke="#f4a6ae" stroke-width="1"/>
<rect x="298.03" y="150.26" width="2.7" height="10.90" fill="#ea4658"/>
<line x1="303.12" y1="156.13" x2="303.12" y2="170.89" stroke="#a9cdd6" stroke-width="1"/>
<rect x="301.77" y="159.40" width="2.7" height="1.77" fill="#47ad7a"/>
<line x1="306.87" y1="157.29" x2="306.87" y2="167.28" stroke="#a9cdd6" stroke-width="1"/>
<rect x="305.52" y="158.60" width="2.7" height="1.00" fill="#47ad7a"/>
<line x1="310.62" y1="146.74" x2="310.62" y2="158.78" stroke="#a9cdd6" stroke-width="1"/>
<rect x="309.27" y="148.99" width="2.7" height="9.79" fill="#47ad7a"/>
<line x1="314.37" y1="142.28" x2="314.37" y2="156.94" stroke="#a9cdd6" stroke-width="1"/>
<rect x="313.02" y="142.41" width="2.7" height="6.64" fill="#47ad7a"/>
<line x1="318.12" y1="130.59" x2="318.12" y2="145.15" stroke="#a9cdd6" stroke-width="1"/>
<rect x="316.77" y="130.64" width="2.7" height="11.76" fill="#47ad7a"/>
<line x1="321.86" y1="118.91" x2="321.86" y2="139.45" stroke="#a9cdd6" stroke-width="1"/>
<rect x="320.51" y="126.11" width="2.7" height="4.58" fill="#47ad7a"/>
<line x1="325.61" y1="115.33" x2="325.61" y2="133.51" stroke="#a9cdd6" stroke-width="1"/>
<rect x="324.26" y="117.10" width="2.7" height="9.01" fill="#47ad7a"/>
<line x1="329.36" y1="115.66" x2="329.36" y2="130.28" stroke="#f4a6ae" stroke-width="1"/>
<rect x="328.01" y="117.10" width="2.7" height="2.59" fill="#ea4658"/>
<line x1="333.11" y1="99.63" x2="333.11" y2="125.05" stroke="#a9cdd6" stroke-width="1"/>
<rect x="331.76" y="105.72" width="2.7" height="13.97" fill="#47ad7a"/>
<line x1="336.86" y1="101.03" x2="336.86" y2="112.29" stroke="#f4a6ae" stroke-width="1"/>
<rect x="335.51" y="104.78" width="2.7" height="7.50" fill="#ea4658"/>
<line x1="340.60" y1="103.69" x2="340.60" y2="131.98" stroke="#f4a6ae" stroke-width="1"/>
<rect x="339.25" y="111.46" width="2.7" height="15.80" fill="#ea4658"/>
<line x1="344.35" y1="121.01" x2="344.35" y2="138.21" stroke="#a9cdd6" stroke-width="1"/>
<rect x="343.00" y="121.19" width="2.7" height="6.07" fill="#47ad7a"/>
<line x1="348.10" y1="111.47" x2="348.10" y2="134.21" stroke="#a9cdd6" stroke-width="1"/>
<rect x="346.75" y="111.76" width="2.7" height="9.43" fill="#47ad7a"/>
<line x1="351.85" y1="106.06" x2="351.85" y2="120.62" stroke="#f4a6ae" stroke-width="1"/>
<rect x="350.50" y="111.76" width="2.7" height="5.93" fill="#ea4658"/>
<line x1="355.60" y1="109.15" x2="355.60" y2="124.15" stroke="#a9cdd6" stroke-width="1"/>
<rect x="354.25" y="115.90" width="2.7" height="1.82" fill="#47ad7a"/>
<line x1="359.34" y1="107.22" x2="359.34" y2="116.88" stroke="#a9cdd6" stroke-width="1"/>
<rect x="357.99" y="115.23" width="2.7" height="1.00" fill="#47ad7a"/>
<line x1="363.09" y1="113.27" x2="363.09" y2="127.99" stroke="#f4a6ae" stroke-width="1"/>
<rect x="361.74" y="115.57" width="2.7" height="3.51" fill="#ea4658"/>
<line x1="366.84" y1="114.02" x2="366.84" y2="136.43" stroke="#f4a6ae" stroke-width="1"/>
<rect x="365.49" y="119.08" width="2.7" height="15.32" fill="#ea4658"/>
<line x1="370.59" y1="126.21" x2="370.59" y2="139.48" stroke="#a9cdd6" stroke-width="1"/>
<rect x="369.24" y="133.19" width="2.7" height="1.20" fill="#47ad7a"/>
<line x1="374.34" y1="119.79" x2="374.34" y2="145.57" stroke="#f4a6ae" stroke-width="1"/>
<rect x="372.99" y="133.18" width="2.7" height="9.56" fill="#ea4658"/>
<line x1="378.08" y1="138.13" x2="378.08" y2="151.54" stroke="#f4a6ae" stroke-width="1"/>
<rect x="376.73" y="142.74" width="2.7" height="4.73" fill="#ea4658"/>
<line x1="381.83" y1="129.76" x2="381.83" y2="147.85" stroke="#a9cdd6" stroke-width="1"/>
<rect x="380.48" y="129.98" width="2.7" height="17.50" fill="#47ad7a"/>
<line x1="385.58" y1="122.13" x2="385.58" y2="135.02" stroke="#a9cdd6" stroke-width="1"/>
<rect x="384.23" y="126.27" width="2.7" height="3.71" fill="#47ad7a"/>
<line x1="389.33" y1="122.79" x2="389.33" y2="131.55" stroke="#a9cdd6" stroke-width="1"/>
<rect x="387.98" y="125.18" width="2.7" height="2.11" fill="#47ad7a"/>
<line x1="393.08" y1="114.14" x2="393.08" y2="131.04" stroke="#a9cdd6" stroke-width="1"/>
<rect x="391.73" y="117.75" width="2.7" height="8.71" fill="#47ad7a"/>
<line x1="396.82" y1="109.62" x2="396.82" y2="120.39" stroke="#a9cdd6" stroke-width="1"/>
<rect x="395.47" y="112.54" width="2.7" height="5.21" fill="#47ad7a"/>
<line x1="400.57" y1="107.60" x2="400.57" y2="121.81" stroke="#f4a6ae" stroke-width="1"/>
<rect x="399.22" y="112.05" width="2.7" height="1.00" fill="#ea4658"/>
<line x1="404.32" y1="109.05" x2="404.32" y2="116.34" stroke="#a9cdd6" stroke-width="1"/>
<rect x="402.97" y="111.95" width="2.7" height="1.00" fill="#47ad7a"/>
<line x1="408.07" y1="105.72" x2="408.07" y2="114.03" stroke="#a9cdd6" stroke-width="1"/>
<rect x="406.72" y="111.46" width="2.7" height="1.20" fill="#47ad7a"/>
<line x1="411.82" y1="107.64" x2="411.82" y2="121.29" stroke="#f4a6ae" stroke-width="1"/>
<rect x="410.47" y="111.46" width="2.7" height="8.99" fill="#ea4658"/>
<line x1="415.56" y1="113.73" x2="415.56" y2="123.59" stroke="#a9cdd6" stroke-width="1"/>
<rect x="414.21" y="115.09" width="2.7" height="5.40" fill="#47ad7a"/>
<line x1="419.31" y1="110.07" x2="419.31" y2="121.77" stroke="#a9cdd6" stroke-width="1"/>
<rect x="417.96" y="110.74" width="2.7" height="4.35" fill="#47ad7a"/>
<line x1="423.06" y1="109.03" x2="423.06" y2="118.79" stroke="#f4a6ae" stroke-width="1"/>
<rect x="421.71" y="110.74" width="2.7" height="5.33" fill="#ea4658"/>
<line x1="426.81" y1="112.97" x2="426.81" y2="127.88" stroke="#f4a6ae" stroke-width="1"/>
<rect x="425.46" y="116.08" width="2.7" height="9.55" fill="#ea4658"/>
<line x1="430.56" y1="115.32" x2="430.56" y2="126.82" stroke="#a9cdd6" stroke-width="1"/>
<rect x="429.21" y="115.68" width="2.7" height="9.96" fill="#47ad7a"/>
<line x1="434.30" y1="111.96" x2="434.30" y2="117.58" stroke="#a9cdd6" stroke-width="1"/>
<rect x="432.95" y="115.02" width="2.7" height="1.00" fill="#47ad7a"/>
<line x1="438.05" y1="99.63" x2="438.05" y2="116.50" stroke="#a9cdd6" stroke-width="1"/>
<rect x="436.70" y="107.74" width="2.7" height="7.63" fill="#47ad7a"/>
<line x1="441.80" y1="103.38" x2="441.80" y2="110.52" stroke="#a9cdd6" stroke-width="1"/>
<rect x="440.45" y="106.65" width="2.7" height="1.09" fill="#47ad7a"/>
<line x1="445.55" y1="100.57" x2="445.55" y2="109.71" stroke="#f4a6ae" stroke-width="1"/>
<rect x="444.20" y="106.48" width="2.7" height="1.00" fill="#ea4658"/>
<line x1="449.30" y1="88.95" x2="449.30" y2="107.57" stroke="#a9cdd6" stroke-width="1"/>
<rect x="447.95" y="89.90" width="2.7" height="17.42" fill="#47ad7a"/>
<line x1="453.04" y1="83.90" x2="453.04" y2="100.67" stroke="#f4a6ae" stroke-width="1"/>
<rect x="451.69" y="89.90" width="2.7" height="2.89" fill="#ea4658"/>
<line x1="456.79" y1="88.85" x2="456.79" y2="97.19" stroke="#a9cdd6" stroke-width="1"/>
<rect x="455.44" y="91.82" width="2.7" height="1.00" fill="#47ad7a"/>
<line x1="460.54" y1="90.16" x2="460.54" y2="106.66" stroke="#f4a6ae" stroke-width="1"/>
<rect x="459.19" y="91.86" width="2.7" height="8.55" fill="#ea4658"/>
<line x1="464.29" y1="94.91" x2="464.29" y2="108.63" stroke="#f4a6ae" stroke-width="1"/>
<rect x="462.94" y="100.41" width="2.7" height="3.44" fill="#ea4658"/>
<line x1="468.04" y1="103.85" x2="468.04" y2="136.66" stroke="#f4a6ae" stroke-width="1"/>
<rect x="466.69" y="103.85" width="2.7" height="20.86" fill="#ea4658"/>
<line x1="471.78" y1="118.26" x2="471.78" y2="133.75" stroke="#f4a6ae" stroke-width="1"/>
<rect x="470.43" y="124.71" width="2.7" height="2.42" fill="#ea4658"/>
<line x1="475.53" y1="120.37" x2="475.53" y2="137.93" stroke="#a9cdd6" stroke-width="1"/>
<rect x="474.18" y="123.42" width="2.7" height="3.71" fill="#47ad7a"/>
<line x1="479.28" y1="121.86" x2="479.28" y2="136.96" stroke="#f4a6ae" stroke-width="1"/>
<rect x="477.93" y="123.42" width="2.7" height="12.37" fill="#ea4658"/>
<line x1="483.03" y1="127.66" x2="483.03" y2="151.20" stroke="#f4a6ae" stroke-width="1"/>
<rect x="481.68" y="135.80" width="2.7" height="9.82" fill="#ea4658"/>
<line x1="486.78" y1="143.55" x2="486.78" y2="165.26" stroke="#f4a6ae" stroke-width="1"/>
<rect x="485.43" y="145.62" width="2.7" height="2.65" fill="#ea4658"/>
<line x1="490.52" y1="148.07" x2="490.52" y2="159.84" stroke="#f4a6ae" stroke-width="1"/>
<rect x="489.17" y="148.34" width="2.7" height="4.98" fill="#ea4658"/>
<line x1="494.27" y1="150.88" x2="494.27" y2="167.93" stroke="#f4a6ae" stroke-width="1"/>
<rect x="492.92" y="153.32" width="2.7" height="4.60" fill="#ea4658"/>
<line x1="498.02" y1="133.12" x2="498.02" y2="159.39" stroke="#a9cdd6" stroke-width="1"/>
<rect x="496.67" y="134.78" width="2.7" height="23.14" fill="#47ad7a"/>
<line x1="501.77" y1="127.94" x2="501.77" y2="138.44" stroke="#a9cdd6" stroke-width="1"/>
<rect x="500.42" y="130.05" width="2.7" height="4.73" fill="#47ad7a"/>
<line x1="505.52" y1="123.41" x2="505.52" y2="135.66" stroke="#f4a6ae" stroke-width="1"/>
<rect x="504.17" y="129.94" width="2.7" height="1.00" fill="#ea4658"/>
<line x1="509.26" y1="129.19" x2="509.26" y2="142.62" stroke="#f4a6ae" stroke-width="1"/>
<rect x="507.91" y="130.82" width="2.7" height="6.05" fill="#ea4658"/>
<line x1="513.01" y1="116.21" x2="513.01" y2="139.42" stroke="#a9cdd6" stroke-width="1"/>
<rect x="511.66" y="117.47" width="2.7" height="19.40" fill="#47ad7a"/>
<line x1="516.76" y1="113.89" x2="516.76" y2="120.93" stroke="#a9cdd6" stroke-width="1"/>
<rect x="515.41" y="115.80" width="2.7" height="1.65" fill="#47ad7a"/>
<line x1="520.51" y1="114.63" x2="520.51" y2="125.25" stroke="#f4a6ae" stroke-width="1"/>
<rect x="519.16" y="115.80" width="2.7" height="7.74" fill="#ea4658"/>
<line x1="524.26" y1="111.44" x2="524.26" y2="123.37" stroke="#a9cdd6" stroke-width="1"/>
<rect x="522.91" y="119.93" width="2.7" height="2.77" fill="#47ad7a"/>
<line x1="528.00" y1="119.79" x2="528.00" y2="139.94" stroke="#f4a6ae" stroke-width="1"/>
<rect x="526.65" y="119.93" width="2.7" height="18.61" fill="#ea4658"/>
<line x1="531.75" y1="115.71" x2="531.75" y2="139.94" stroke="#a9cdd6" stroke-width="1"/>
<rect x="530.40" y="118.68" width="2.7" height="19.86" fill="#47ad7a"/>
<line x1="535.50" y1="114.35" x2="535.50" y2="129.16" stroke="#f4a6ae" stroke-width="1"/>
<rect x="534.15" y="118.68" width="2.7" height="4.89" fill="#ea4658"/>
<line x1="539.25" y1="112.99" x2="539.25" y2="128.97" stroke="#a9cdd6" stroke-width="1"/>
<rect x="537.90" y="119.25" width="2.7" height="4.32" fill="#47ad7a"/>
<line x1="543.00" y1="109.00" x2="543.00" y2="121.19" stroke="#a9cdd6" stroke-width="1"/>
<rect x="541.65" y="111.99" width="2.7" height="7.25" fill="#47ad7a"/>
<line x1="546.74" y1="109.94" x2="546.74" y2="124.31" stroke="#f4a6ae" stroke-width="1"/>
<rect x="545.39" y="111.98" width="2.7" height="2.93" fill="#ea4658"/>
<line x1="550.49" y1="109.00" x2="550.49" y2="137.60" stroke="#f4a6ae" stroke-width="1"/>
<rect x="549.14" y="116.97" width="2.7" height="9.30" fill="#ea4658"/>
<line x1="554.24" y1="121.37" x2="554.24" y2="133.05" stroke="#a9cdd6" stroke-width="1"/>
<rect x="552.89" y="122.27" width="2.7" height="4.00" fill="#47ad7a"/>
<line x1="557.99" y1="116.04" x2="557.99" y2="160.10" stroke="#f4a6ae" stroke-width="1"/>
<rect x="556.64" y="122.27" width="2.7" height="33.00" fill="#ea4658"/>
<line x1="561.74" y1="147.13" x2="561.74" y2="172.29" stroke="#a9cdd6" stroke-width="1"/>
<rect x="560.39" y="154.90" width="2.7" height="1.00" fill="#47ad7a"/>
<line x1="565.48" y1="146.59" x2="565.48" y2="159.17" stroke="#a9cdd6" stroke-width="1"/>
<rect x="564.13" y="154.18" width="2.7" height="1.00" fill="#47ad7a"/>
<line x1="569.23" y1="150.26" x2="569.23" y2="169.69" stroke="#f4a6ae" stroke-width="1"/>
<rect x="567.88" y="154.27" width="2.7" height="14.45" fill="#ea4658"/>
<line x1="572.98" y1="154.50" x2="572.98" y2="182.49" stroke="#f4a6ae" stroke-width="1"/>
<rect x="571.63" y="168.72" width="2.7" height="1.55" fill="#ea4658"/>
<line x1="576.73" y1="169.08" x2="576.73" y2="191.04" stroke="#f4a6ae" stroke-width="1"/>
<rect x="575.38" y="170.29" width="2.7" height="13.54" fill="#ea4658"/>
<line x1="580.48" y1="172.99" x2="580.48" y2="190.13" stroke="#f4a6ae" stroke-width="1"/>
<rect x="579.13" y="183.83" width="2.7" height="3.23" fill="#ea4658"/>
<line x1="584.22" y1="183.62" x2="584.22" y2="247.30" stroke="#f4a6ae" stroke-width="1"/>
<rect x="582.87" y="185.42" width="2.7" height="30.52" fill="#ea4658"/>
<line x1="587.97" y1="185.42" x2="587.97" y2="224.56" stroke="#a9cdd6" stroke-width="1"/>
<rect x="586.62" y="196.20" width="2.7" height="19.83" fill="#47ad7a"/>
<line x1="591.72" y1="190.11" x2="591.72" y2="230.95" stroke="#f4a6ae" stroke-width="1"/>
<rect x="590.37" y="196.20" width="2.7" height="17.10" fill="#ea4658"/>
<line x1="595.47" y1="205.91" x2="595.47" y2="222.92" stroke="#a9cdd6" stroke-width="1"/>
<rect x="594.12" y="212.32" width="2.7" height="1.00" fill="#47ad7a"/>
<line x1="599.22" y1="208.53" x2="599.22" y2="242.09" stroke="#f4a6ae" stroke-width="1"/>
<rect x="597.87" y="210.73" width="2.7" height="17.81" fill="#ea4658"/>
<line x1="602.96" y1="199.01" x2="602.96" y2="228.40" stroke="#a9cdd6" stroke-width="1"/>
<rect x="601.61" y="206.06" width="2.7" height="21.08" fill="#47ad7a"/>
<line x1="606.71" y1="201.40" x2="606.71" y2="217.21" stroke="#f4a6ae" stroke-width="1"/>
<rect x="605.36" y="205.58" width="2.7" height="3.98" fill="#ea4658"/>
<line x1="610.46" y1="196.48" x2="610.46" y2="210.73" stroke="#a9cdd6" stroke-width="1"/>
<rect x="609.11" y="203.98" width="2.7" height="4.30" fill="#47ad7a"/>
<line x1="614.21" y1="198.49" x2="614.21" y2="213.86" stroke="#f4a6ae" stroke-width="1"/>
<rect x="612.86" y="203.98" width="2.7" height="2.07" fill="#ea4658"/>
<line x1="617.96" y1="205.68" x2="617.96" y2="225.34" stroke="#f4a6ae" stroke-width="1"/>
<rect x="616.61" y="207.32" width="2.7" height="13.44" fill="#ea4658"/>
<line x1="621.70" y1="212.90" x2="621.70" y2="230.27" stroke="#f4a6ae" stroke-width="1"/>
<rect x="620.35" y="220.76" width="2.7" height="4.95" fill="#ea4658"/>
<line x1="625.45" y1="216.88" x2="625.45" y2="231.46" stroke="#a9cdd6" stroke-width="1"/>
<rect x="624.10" y="217.77" width="2.7" height="7.95" fill="#47ad7a"/>
<line x1="629.20" y1="212.14" x2="629.20" y2="227.83" stroke="#a9cdd6" stroke-width="1"/>
<rect x="627.85" y="214.02" width="2.7" height="6.09" fill="#47ad7a"/>
<line x1="632.95" y1="210.29" x2="632.95" y2="220.74" stroke="#f4a6ae" stroke-width="1"/>
<rect x="631.60" y="213.30" width="2.7" height="2.63" fill="#ea4658"/>
<line x1="636.70" y1="208.74" x2="636.70" y2="219.55" stroke="#a9cdd6" stroke-width="1"/>
<rect x="635.35" y="210.73" width="2.7" height="5.18" fill="#47ad7a"/>
<line x1="640.44" y1="202.88" x2="640.44" y2="213.69" stroke="#a9cdd6" stroke-width="1"/>
<rect x="639.09" y="204.87" width="2.7" height="6.95" fill="#47ad7a"/>
<line x1="644.19" y1="203.75" x2="644.19" y2="221.26" stroke="#f4a6ae" stroke-width="1"/>
<rect x="642.84" y="203.95" width="2.7" height="11.33" fill="#ea4658"/>
<line x1="647.94" y1="210.15" x2="647.94" y2="224.80" stroke="#f4a6ae" stroke-width="1"/>
<rect x="646.59" y="215.29" width="2.7" height="6.17" fill="#ea4658"/>
<line x1="651.69" y1="216.92" x2="651.69" y2="222.82" stroke="#a9cdd6" stroke-width="1"/>
<rect x="650.34" y="220.13" width="2.7" height="1.31" fill="#47ad7a"/>
<line x1="655.44" y1="214.95" x2="655.44" y2="231.83" stroke="#f4a6ae" stroke-width="1"/>
<rect x="654.09" y="220.13" width="2.7" height="10.52" fill="#ea4658"/>
<line x1="659.18" y1="228.23" x2="659.18" y2="242.61" stroke="#f4a6ae" stroke-width="1"/>
<rect x="657.83" y="230.54" width="2.7" height="1.00" fill="#ea4658"/>
<line x1="662.93" y1="211.98" x2="662.93" y2="236.07" stroke="#a9cdd6" stroke-width="1"/>
<rect x="661.58" y="214.95" width="2.7" height="16.50" fill="#47ad7a"/>
<line x1="666.68" y1="207.49" x2="666.68" y2="220.19" stroke="#f4a6ae" stroke-width="1"/>
<rect x="665.33" y="212.14" width="2.7" height="3.28" fill="#ea4658"/>
<line x1="670.43" y1="211.30" x2="670.43" y2="219.47" stroke="#a9cdd6" stroke-width="1"/>
<rect x="669.08" y="212.14" width="2.7" height="3.52" fill="#47ad7a"/>
<line x1="674.18" y1="212.14" x2="674.18" y2="225.74" stroke="#f4a6ae" stroke-width="1"/>
<rect x="672.83" y="212.14" width="2.7" height="9.16" fill="#ea4658"/>
<line x1="677.92" y1="203.33" x2="677.92" y2="225.00" stroke="#a9cdd6" stroke-width="1"/>
<rect x="676.57" y="205.01" width="2.7" height="16.29" fill="#47ad7a"/>
<line x1="681.67" y1="201.25" x2="681.67" y2="206.55" stroke="#a9cdd6" stroke-width="1"/>
<rect x="680.32" y="203.95" width="2.7" height="1.35" fill="#47ad7a"/>
</g>
<line x1="5.5" y1="204" x2="693.5" y2="204" stroke="#47ad7a" stroke-width="1.6" stroke-dasharray="1.6 3.2" stroke-dashoffset="2.25"/>
<path d="M3.28 316.68 L7.03 316.11 L10.78 315.41 L14.53 314.69 L18.28 313.92 L22.02 313.20 L25.77 312.57 L29.52 311.84 L33.27 311.19 L37.02 310.50 L40.76 309.73 L44.51 308.81 L48.26 307.93 L52.01 306.99 L55.76 306.04 L59.50 304.97 L63.25 303.92 L67.00 302.85 L70.75 301.58 L74.50 300.30 L78.24 299.06 L81.99 297.66 L85.74 296.01 L89.49 294.16 L93.24 292.23 L96.98 290.46 L100.73 288.88 L104.48 287.55 L108.23 286.36 L111.98 284.89 L115.72 283.28 L119.47 281.93 L123.22 280.67 L126.97 279.47 L130.72 278.20 L134.46 277.03 L138.21 275.93 L141.96 275.27 L145.71 274.44 L149.46 273.70 L153.20 272.96 L156.95 272.23 L160.70 271.50 L164.45 270.98 L168.20 270.19 L171.94 269.34 L175.69 268.48 L179.44 267.78 L183.19 267.04 L186.94 266.13 L190.68 265.04 L194.43 264.04 L198.18 262.93 L201.93 261.75 L205.68 260.64 L209.42 258.84 L213.17 257.07 L216.92 255.48 L220.67 253.63 L224.42 251.89 L228.16 250.19 L231.91 248.39 L235.66 246.69 L239.41 244.91 L243.16 242.88 L246.90 240.95 L250.65 238.64 L254.40 236.38 L258.15 234.03 L261.90 232.04 L265.64 230.57 L269.39 229.06 L273.14 227.83 L276.89 226.69 L280.64 225.59 L284.38 224.61 L288.13 223.19 L291.88 221.95 L295.63 220.51 L299.38 219.33 L303.12 218.13 L306.87 216.94 L310.62 215.58 L314.37 214.12 L318.12 212.45 L321.86 210.72 L325.61 208.85 L329.36 207.07 L333.11 205.04 L336.86 203.18 L340.60 201.67 L344.35 200.06 L348.10 198.29 L351.85 196.68 L355.60 195.06 L359.34 193.47 L363.09 191.98 L366.84 190.83 L370.59 189.68 L374.34 188.74 L378.08 187.92 L381.83 186.76 L385.58 185.55 L389.33 184.34 L393.08 183.01 L396.82 181.60 L400.57 180.22 L404.32 178.86 L408.07 177.51 L411.82 176.37 L415.56 175.15 L419.31 173.86 L423.06 172.70 L426.81 171.76 L430.56 170.64 L434.30 169.53 L438.05 168.30 L441.80 167.07 L445.55 165.87 L449.30 164.35 L453.04 162.92 L456.79 161.50 L460.54 160.28 L464.29 159.15 L468.04 158.46 L471.78 157.83 L475.53 157.14 L479.28 156.72 L483.03 156.49 L486.78 156.33 L490.52 156.27 L494.27 156.30 L498.02 155.87 L501.77 155.36 L505.52 154.87 L509.26 154.51 L513.01 153.76 L516.76 153.01 L520.51 152.42 L524.26 151.77 L528.00 151.50 L531.75 150.85 L535.50 150.30 L539.25 149.68 L543.00 148.93 L546.74 148.25 L550.49 147.81 L554.24 147.30 L557.99 147.45 L561.74 147.61 L565.48 147.74 L569.23 148.16 L572.98 148.60 L576.73 149.31 L580.48 150.06 L584.22 151.38 L587.97 152.28 L591.72 153.50 L595.47 154.67 L599.22 156.15 L602.96 157.15 L606.71 158.20 L610.46 159.11 L614.21 160.05 L617.96 161.27 L621.70 162.56 L625.45 163.66 L629.20 164.67 L632.95 165.69 L636.70 166.59 L640.44 167.36 L644.19 168.32 L647.94 169.38 L651.69 170.39 L655.44 171.60 L659.18 172.80 L662.93 173.64 L666.68 174.48 L670.43 175.23 L674.18 176.15 L677.92 176.73 L681.67 177.27" fill="none" stroke="#fbe14b" stroke-width="1.9" stroke-linejoin="round" stroke-linecap="round" clip-path="url(#cm)" opacity="1"/>
<path d="M3.28 302.30 L7.03 301.28 L10.78 299.83 L14.53 298.39 L18.28 296.81 L22.02 295.46 L25.77 294.46 L29.52 293.17 L33.27 292.16 L37.02 291.05 L40.76 289.70 L44.51 287.84 L48.26 286.19 L52.01 284.39 L55.76 282.62 L59.50 280.47 L63.25 278.46 L67.00 276.46 L70.75 273.81 L74.50 271.23 L78.24 268.88 L81.99 266.02 L85.74 262.42 L89.49 258.18 L93.24 253.86 L96.98 250.29 L100.73 247.53 L104.48 245.71 L108.23 244.47 L111.98 242.20 L115.72 239.51 L119.47 237.80 L123.22 236.45 L126.97 235.33 L130.72 233.96 L134.46 232.94 L138.21 232.14 L141.96 232.93 L145.71 232.97 L149.46 233.30 L153.20 233.55 L156.95 233.75 L160.70 233.89 L164.45 234.72 L168.20 234.50 L171.94 233.99 L175.69 233.45 L179.44 233.47 L183.19 233.27 L186.94 232.45 L190.68 230.96 L194.43 229.80 L198.18 228.27 L201.93 226.56 L205.68 225.09 L209.42 221.20 L213.17 217.56 L216.92 214.73 L220.67 211.04 L224.42 207.84 L228.16 204.91 L231.91 201.72 L235.66 198.98 L239.41 196.02 L243.16 192.28 L246.90 188.99 L250.65 184.48 L254.40 180.27 L258.15 175.88 L261.90 172.92 L265.64 171.90 L269.39 170.70 L273.14 170.45 L276.89 170.49 L280.64 170.59 L284.38 171.00 L288.13 169.78 L291.88 169.15 L295.63 167.80 L299.38 167.32 L303.12 166.76 L306.87 166.19 L310.62 164.96 L314.37 163.35 L318.12 161.01 L321.86 158.52 L325.61 155.56 L329.36 153.00 L333.11 149.62 L336.86 146.95 L340.60 145.55 L344.35 143.81 L348.10 141.52 L351.85 139.82 L355.60 138.11 L359.34 136.50 L363.09 135.25 L366.84 135.19 L370.59 135.05 L374.34 135.60 L378.08 136.45 L381.83 135.99 L385.58 135.29 L389.33 134.57 L393.08 133.37 L396.82 131.88 L400.57 130.50 L404.32 129.20 L408.07 127.94 L411.82 127.40 L415.56 126.52 L419.31 125.39 L423.06 124.73 L426.81 124.79 L430.56 124.14 L434.30 123.52 L438.05 122.39 L441.80 121.26 L445.55 120.27 L449.30 118.10 L453.04 116.29 L456.79 114.55 L460.54 113.54 L464.29 112.84 L468.04 113.69 L471.78 114.65 L475.53 115.28 L479.28 116.74 L483.03 118.80 L486.78 120.91 L490.52 123.22 L494.27 125.70 L498.02 126.35 L501.77 126.62 L505.52 126.92 L509.26 127.63 L513.01 126.90 L516.76 126.11 L520.51 125.92 L524.26 125.50 L528.00 126.43 L531.75 125.87 L535.50 125.71 L539.25 125.25 L543.00 124.30 L546.74 123.63 L550.49 123.82 L554.24 123.71 L557.99 125.96 L561.74 128.04 L565.48 129.92 L569.23 132.69 L572.98 135.37 L576.73 138.84 L580.48 142.28 L584.22 147.54 L587.97 151.02 L591.72 155.47 L595.47 159.53 L599.22 164.46 L602.96 167.43 L606.71 170.44 L610.46 172.84 L614.21 175.21 L617.96 178.46 L621.70 181.84 L625.45 184.40 L629.20 186.52 L632.95 188.62 L636.70 190.20 L640.44 191.25 L644.19 192.96 L647.94 195.00 L651.69 196.79 L655.44 199.21 L659.18 201.52 L662.93 202.48 L666.68 203.40 L670.43 204.02 L674.18 205.26 L677.92 205.24 L681.67 205.15" fill="none" stroke="#fb5252" stroke-width="1.9" stroke-linejoin="round" stroke-linecap="round" clip-path="url(#cm)" opacity="1"/>
<line x1="5.5" y1="153.5" x2="66" y2="153.5" stroke="#f4473f" stroke-width="1.5"/>
<line x1="5.5" y1="177.3" x2="66" y2="177.3" stroke="#f7db3c" stroke-width="1.5"/>
<text x="69.4" y="157.3" font-size="10.3" fill="#15171c" font-weight="bold" text-anchor="start" textLength="58.6" lengthAdjust="spacingAndGlyphs"  stroke="#15171c" stroke-width="0.22">14-day SMA</text>
<text x="69.4" y="181" font-size="10.3" fill="#15171c" font-weight="bold" text-anchor="start" textLength="58.6" lengthAdjust="spacingAndGlyphs"  stroke="#15171c" stroke-width="0.22">50-day SMA</text>
<line x1="550.1" y1="105.4" x2="677.1" y2="212.6" stroke="#101010" stroke-width="2.0" stroke-linecap="round"/>
<text x="12.6" y="52" font-size="10.3" fill="#4a4e59" font-weight="normal" text-anchor="start" textLength="156.4" lengthAdjust="spacingAndGlyphs"  stroke="#4a4e59" stroke-width="0.22">Bitcoin / U.S. Dollar, 1D, BINANCE</text>
<path d="M3.28 305.23 L7.03 291.37 L10.78 281.89 L14.53 274.07 L18.28 274.07 L22.02 277.09 L25.77 285.77 L29.52 291.13 L33.27 297.54 L37.02 296.70 L40.76 297.60 L44.51 289.54 L48.26 285.21 L52.01 280.09 L55.76 279.08 L59.50 275.58 L63.25 274.42 L67.00 274.07 L70.75 274.07 L74.50 274.07 L78.24 275.75 L81.99 275.75 L85.74 275.75 L89.49 274.07 L93.24 274.07 L96.98 284.89 L100.73 307.94 L104.48 330.98 L108.23 343.20 L111.98 338.33 L115.72 331.35 L119.47 330.30 L123.22 335.17 L126.97 342.15 L130.72 341.76 L134.46 341.76 L138.21 341.76 L141.96 343.20 L145.71 340.05 L149.46 337.55 L153.20 334.11 L156.95 333.63 L160.70 332.14 L164.45 335.58 L168.20 328.71 L171.94 318.61 L175.69 303.86 L179.44 305.57 L183.19 306.78 L186.94 298.87 L190.68 284.62 L194.43 277.28 L198.18 276.90 L201.93 276.90 L205.68 275.67 L209.42 275.67 L213.17 275.67 L216.92 279.17 L220.67 280.47 L224.42 283.83 L228.16 282.51 L231.91 283.31 L235.66 285.74 L239.41 286.02 L243.16 283.92 L246.90 281.69 L250.65 277.64 L254.40 277.64 L258.15 274.07 L261.90 297.12 L265.64 320.16 L269.39 341.94 L273.14 341.94 L276.89 341.94 L280.64 343.20 L284.38 343.20 L288.13 336.51 L291.88 332.07 L295.63 324.83 L299.38 327.81 L303.12 328.04 L306.87 330.88 L310.62 323.55 L314.37 304.72 L318.12 286.07 L321.86 274.07 L325.61 274.07 L329.36 275.89 L333.11 275.89 L336.86 281.16 L340.60 295.25 L344.35 308.41 L348.10 312.30 L351.85 310.23 L355.60 310.24 L359.34 318.06 L363.09 326.10 L366.84 335.96 L370.59 341.35 L374.34 342.52 L378.08 342.52 L381.83 335.56 L385.58 324.83 L389.33 311.83 L393.08 302.55 L396.82 293.75 L400.57 284.39 L404.32 278.82 L408.07 275.31 L411.82 283.56 L415.56 287.97 L419.31 289.85 L423.06 288.13 L426.81 298.91 L430.56 308.84 L434.30 313.10 L438.05 300.85 L441.80 291.44 L445.55 283.41 L449.30 279.92 L453.04 280.52 L456.79 279.53 L460.54 290.80 L464.29 302.35 L468.04 322.93 L471.78 334.70 L475.53 340.95 L479.28 340.95 L483.03 340.95 L486.78 343.20 L490.52 343.20 L494.27 343.20 L498.02 333.75 L501.77 322.14 L505.52 310.78 L509.26 308.56 L513.01 298.44 L516.76 286.75 L520.51 279.25 L524.26 280.15 L528.00 290.62 L531.75 288.86 L535.50 290.76 L539.25 282.71 L543.00 280.61 L546.74 279.44 L550.49 290.79 L554.24 300.84 L557.99 320.93 L561.74 330.08 L565.48 342.41 L569.23 342.41 L572.98 342.52 L576.73 343.20 L580.48 343.20 L584.22 343.20 L587.97 335.90 L591.72 331.20 L595.47 325.95 L599.22 330.02 L602.96 322.98 L606.71 308.83 L610.46 289.12 L614.21 278.75 L617.96 281.66 L621.70 289.88 L625.45 291.54 L629.20 285.00 L632.95 277.55 L636.70 274.95 L640.44 274.95 L644.19 279.28 L647.94 287.36 L651.69 298.42 L655.44 311.98 L659.18 323.24 L662.93 312.18 L666.68 293.81 L670.43 274.47 L674.18 282.86 L677.92 282.46 L681.67 282.46" fill="none" stroke="#55adfd" stroke-width="2.0" stroke-linejoin="round" stroke-linecap="round" clip-path="url(#cs)" opacity="0.9"/>
<path d="M3.28 315.59 L7.03 303.53 L10.78 292.83 L14.53 282.45 L18.28 276.68 L22.02 275.08 L25.77 278.98 L29.52 284.66 L33.27 291.48 L37.02 295.12 L40.76 297.28 L44.51 294.61 L48.26 290.78 L52.01 284.95 L55.76 281.46 L59.50 278.25 L63.25 276.36 L67.00 274.69 L70.75 274.19 L74.50 274.07 L78.24 274.63 L81.99 275.19 L85.74 275.75 L89.49 275.19 L93.24 274.63 L96.98 277.68 L100.73 288.97 L104.48 307.94 L108.23 327.37 L111.98 337.50 L115.72 337.62 L119.47 333.32 L123.22 332.27 L126.97 335.87 L130.72 339.69 L134.46 341.89 L138.21 341.76 L141.96 342.24 L145.71 341.67 L149.46 340.27 L153.20 337.24 L156.95 335.10 L160.70 333.29 L164.45 333.79 L168.20 332.14 L171.94 327.63 L175.69 317.06 L179.44 309.35 L183.19 305.40 L186.94 303.74 L190.68 296.76 L194.43 286.92 L198.18 279.60 L201.93 277.03 L205.68 276.49 L209.42 276.08 L213.17 275.67 L216.92 276.83 L220.67 278.43 L224.42 281.15 L228.16 282.27 L231.91 283.21 L235.66 283.85 L239.41 285.02 L243.16 285.23 L246.90 283.88 L250.65 281.08 L254.40 278.99 L258.15 276.45 L261.90 282.94 L265.64 297.12 L269.39 319.74 L273.14 334.68 L276.89 341.94 L280.64 342.36 L284.38 342.78 L288.13 340.97 L291.88 337.26 L295.63 331.14 L299.38 328.24 L303.12 326.90 L306.87 328.91 L310.62 327.49 L314.37 319.72 L318.12 304.78 L321.86 288.29 L325.61 278.07 L329.36 274.68 L333.11 275.28 L336.86 277.64 L340.60 284.10 L344.35 294.94 L348.10 305.32 L351.85 310.32 L355.60 310.93 L359.34 312.85 L363.09 318.13 L366.84 326.71 L370.59 334.47 L374.34 339.95 L378.08 342.13 L381.83 340.20 L385.58 334.30 L389.33 324.07 L393.08 313.07 L396.82 302.71 L400.57 293.56 L404.32 285.66 L408.07 279.51 L411.82 279.23 L415.56 282.28 L419.31 287.12 L423.06 288.65 L426.81 292.30 L430.56 298.63 L434.30 306.95 L438.05 307.60 L441.80 301.80 L445.55 291.90 L449.30 284.92 L453.04 281.28 L456.79 279.99 L460.54 283.62 L464.29 290.89 L468.04 305.36 L471.78 319.99 L475.53 332.86 L479.28 338.86 L483.03 340.95 L486.78 341.70 L490.52 342.45 L494.27 343.20 L498.02 340.05 L501.77 333.03 L505.52 322.22 L509.26 313.83 L513.01 305.93 L516.76 297.92 L520.51 288.15 L524.26 282.05 L528.00 283.34 L531.75 286.54 L535.50 290.08 L539.25 287.44 L543.00 284.69 L546.74 280.92 L550.49 283.61 L554.24 290.36 L557.99 304.19 L561.74 317.28 L565.48 331.14 L569.23 338.30 L572.98 342.45 L576.73 342.71 L580.48 342.97 L584.22 343.20 L587.97 340.77 L591.72 336.77 L595.47 331.02 L599.22 329.06 L602.96 326.32 L606.71 320.61 L610.46 306.98 L614.21 292.23 L617.96 283.18 L621.70 283.43 L625.45 287.69 L629.20 288.81 L632.95 284.70 L636.70 279.17 L640.44 275.82 L644.19 276.39 L647.94 280.53 L651.69 288.35 L655.44 299.25 L659.18 311.21 L662.93 315.80 L666.68 309.74 L670.43 293.49 L674.18 283.72 L677.92 279.93 L681.67 282.59" fill="none" stroke="#fd9f55" stroke-width="2.0" stroke-linejoin="round" stroke-linecap="round" clip-path="url(#cs)" opacity="0.85"/>
<rect x="5.5" y="287.90" width="688.0" height="41.48" fill="rgb(153,21,255)" fill-opacity="0.2"/>
<line x1="5.5" y1="287.90" x2="693.5" y2="287.90" stroke="#63666f" stroke-width="1.1" stroke-dasharray="4.7 3.2"/>
<line x1="5.5" y1="329.38" x2="693.5" y2="329.38" stroke="#63666f" stroke-width="1.1" stroke-dasharray="4.7 3.2"/>
<text x="12.4" y="282.5" font-size="10.3" fill="#4a4e59" font-weight="normal" text-anchor="start" textLength="128.8" lengthAdjust="spacingAndGlyphs"  stroke="#4a4e59" stroke-width="0.22">Stoch RSI (3, 3, 14, 14, close)</text>
<rect x="693.5" y="35.5" width="51.0" height="339.0" fill="#ffffff"/>
<line x1="693.5" y1="247.5" x2="697.5" y2="247.5" stroke="#50535e" stroke-width="1"/>
<text x="701.2" y="250.5" font-size="9.6" fill="#585b66" font-weight="normal" text-anchor="start" textLength="35.2" lengthAdjust="spacingAndGlyphs"  stroke="#585b66" stroke-width="0.22">30000.00</text>
<line x1="693.5" y1="200.5" x2="697.5" y2="200.5" stroke="#50535e" stroke-width="1"/>
<text x="701.2" y="202.92000000000002" font-size="9.6" fill="#585b66" font-weight="normal" text-anchor="start" textLength="35.2" lengthAdjust="spacingAndGlyphs"  stroke="#585b66" stroke-width="0.22">40000.00</text>
<line x1="693.5" y1="177.5" x2="697.5" y2="177.5" stroke="#50535e" stroke-width="1"/>
<text x="701.2" y="180.18" font-size="9.6" fill="#585b66" font-weight="normal" text-anchor="start" textLength="35.2" lengthAdjust="spacingAndGlyphs"  stroke="#585b66" stroke-width="0.22">45000.00</text>
<line x1="693.5" y1="154.5" x2="697.5" y2="154.5" stroke="#50535e" stroke-width="1"/>
<text x="701.2" y="156.74" font-size="9.6" fill="#585b66" font-weight="normal" text-anchor="start" textLength="35.2" lengthAdjust="spacingAndGlyphs"  stroke="#585b66" stroke-width="0.22">50000.00</text>
<line x1="693.5" y1="130.5" x2="697.5" y2="130.5" stroke="#50535e" stroke-width="1"/>
<text x="701.2" y="133.3" font-size="9.6" fill="#585b66" font-weight="normal" text-anchor="start" textLength="35.2" lengthAdjust="spacingAndGlyphs"  stroke="#585b66" stroke-width="0.22">55000.00</text>
<line x1="693.5" y1="107.5" x2="697.5" y2="107.5" stroke="#50535e" stroke-width="1"/>
<text x="701.2" y="109.86000000000003" font-size="9.6" fill="#585b66" font-weight="normal" text-anchor="start" textLength="35.2" lengthAdjust="spacingAndGlyphs"  stroke="#585b66" stroke-width="0.22">60000.00</text>
<line x1="693.5" y1="83.5" x2="697.5" y2="83.5" stroke="#50535e" stroke-width="1"/>
<text x="701.2" y="86.42" font-size="9.6" fill="#585b66" font-weight="normal" text-anchor="start" textLength="35.2" lengthAdjust="spacingAndGlyphs"  stroke="#585b66" stroke-width="0.22">65000.00</text>
<line x1="693.5" y1="60.5" x2="697.5" y2="60.5" stroke="#50535e" stroke-width="1"/>
<text x="701.2" y="62.980000000000004" font-size="9.6" fill="#585b66" font-weight="normal" text-anchor="start" textLength="35.2" lengthAdjust="spacingAndGlyphs"  stroke="#585b66" stroke-width="0.22">70000.00</text>
<line x1="693.5" y1="36.5" x2="697.5" y2="36.5" stroke="#50535e" stroke-width="1"/>
<text x="701.2" y="39.540000000000006" font-size="9.6" fill="#585b66" font-weight="normal" text-anchor="start" textLength="35.2" lengthAdjust="spacingAndGlyphs"  stroke="#585b66" stroke-width="0.22">75000.00</text>
<line x1="693.5" y1="288.5" x2="697.5" y2="288.5" stroke="#50535e" stroke-width="1"/>
<text x="701.2" y="291.09999999999997" font-size="9.6" fill="#585b66" font-weight="normal" text-anchor="start" textLength="22.3" lengthAdjust="spacingAndGlyphs"  stroke="#585b66" stroke-width="0.22">80.00</text>
<line x1="693.5" y1="316.5" x2="697.5" y2="316.5" stroke="#50535e" stroke-width="1"/>
<text x="701.2" y="318.74999999999994" font-size="9.6" fill="#585b66" font-weight="normal" text-anchor="start" textLength="22.3" lengthAdjust="spacingAndGlyphs"  stroke="#585b66" stroke-width="0.22">40.00</text>
<line x1="693.5" y1="343.5" x2="697.5" y2="343.5" stroke="#50535e" stroke-width="1"/>
<text x="701.2" y="346.4" font-size="9.6" fill="#585b66" font-weight="normal" text-anchor="start" textLength="17.5" lengthAdjust="spacingAndGlyphs"  stroke="#585b66" stroke-width="0.22">0.00</text>
<rect x="694.5" y="0" width="50.0" height="35.5" fill="#ffffff"/>
<rect x="707.8" y="40.7" width="21.6" height="12.8" rx="3" ry="3" fill="#ffffff" stroke="#dfe3ee" stroke-width="1"/>
<text x="711.4" y="50.6" font-size="9.2" fill="#50535e" font-weight="normal" text-anchor="start" textLength="14.8" lengthAdjust="spacingAndGlyphs"  stroke="#50535e" stroke-width="0.22">USD</text>
<rect x="693.0" y="197.9" width="47.8" height="33.8" rx="1.5" ry="1.5" fill="#4fb17f"/>
<line x1="693.5" y1="204" x2="697.5" y2="204" stroke="#1c3a2a" stroke-width="1"/>
<text x="701.1" y="207.6" font-size="9.3" fill="#13271c" font-weight="normal" text-anchor="start" textLength="35.1" lengthAdjust="spacingAndGlyphs"  stroke="#13271c" stroke-width="0.22">39246.81</text>
<text x="701.1" y="218.1" font-size="9.3" fill="#13271c" font-weight="normal" text-anchor="start" textLength="27" lengthAdjust="spacingAndGlyphs"  stroke="#13271c" stroke-width="0.22">83.43%</text>
<text x="701.1" y="228.5" font-size="9.3" fill="#13271c" font-weight="normal" text-anchor="start" textLength="34.6" lengthAdjust="spacingAndGlyphs"  stroke="#13271c" stroke-width="0.22">14:37:34</text>
<line x1="67.5" y1="352.5" x2="67.5" y2="356.0" stroke="#50535e" stroke-width="1"/>
<text x="56.5" y="365.4" font-size="9.3" fill="#585b66" font-weight="normal" text-anchor="start" textLength="19.3" lengthAdjust="spacingAndGlyphs"  stroke="#585b66" stroke-width="0.22">2021</text>
<line x1="182.5" y1="352.5" x2="182.5" y2="356.0" stroke="#50535e" stroke-width="1"/>
<text x="176" y="365.4" font-size="9.3" fill="#585b66" font-weight="normal" text-anchor="start" textLength="14" lengthAdjust="spacingAndGlyphs"  stroke="#585b66" stroke-width="0.22">Feb</text>
<line x1="287.5" y1="352.5" x2="287.5" y2="356.0" stroke="#50535e" stroke-width="1"/>
<text x="280.7" y="365.4" font-size="9.3" fill="#585b66" font-weight="normal" text-anchor="start" textLength="13.6" lengthAdjust="spacingAndGlyphs"  stroke="#585b66" stroke-width="0.22">Mar</text>
<line x1="404.5" y1="352.5" x2="404.5" y2="356.0" stroke="#50535e" stroke-width="1"/>
<text x="397.3" y="365.4" font-size="9.3" fill="#585b66" font-weight="normal" text-anchor="start" textLength="13.4" lengthAdjust="spacingAndGlyphs"  stroke="#585b66" stroke-width="0.22">Apr</text>
<line x1="516.5" y1="352.5" x2="516.5" y2="356.0" stroke="#50535e" stroke-width="1"/>
<text x="509.3" y="365.4" font-size="9.3" fill="#585b66" font-weight="normal" text-anchor="start" textLength="14.7" lengthAdjust="spacingAndGlyphs"  stroke="#585b66" stroke-width="0.22">May</text>
<line x1="633.5" y1="352.5" x2="633.5" y2="356.0" stroke="#50535e" stroke-width="1"/>
<text x="626.7" y="365.4" font-size="9.3" fill="#585b66" font-weight="normal" text-anchor="start" textLength="12.6" lengthAdjust="spacingAndGlyphs"  stroke="#585b66" stroke-width="0.22">Jun</text>
<line x1="5.0" y1="35" x2="745.0" y2="35" stroke="#8b8e94" stroke-width="2"/>
<line x1="5.5" y1="35.5" x2="5.5" y2="374.5" stroke="#53555b" stroke-width="1"/>
<line x1="744.5" y1="35.5" x2="744.5" y2="374.5" stroke="#53555b" stroke-width="1"/>
<line x1="5.5" y1="374.5" x2="744.5" y2="374.5" stroke="#53555b" stroke-width="1"/>
<line x1="693.5" y1="35.5" x2="693.5" y2="374.5" stroke="#53555b" stroke-width="1"/>
<line x1="5.5" y1="265.5" x2="744.5" y2="265.5" stroke="#53555b" stroke-width="1"/>
<line x1="5.5" y1="352.5" x2="744.5" y2="352.5" stroke="#53555b" stroke-width="1"/>
<g transform="translate(5,382)">
<path d="M2.6 12.9 C1 12.9 0 11.8 0 10.4 C0 8.8 1.2 7.6 2.9 7.5 C3 3.6 5.4 0.7 8.6 0.7 C11 0.7 12.9 2.2 13.6 4.4 C14.3 4.1 15 4 15.6 4 C18 4 19.6 5.8 19.6 8.1 C20.3 8.6 20.6 9.5 20.6 10.4 C20.6 11.8 19.6 12.9 18 12.9 Z" fill="#2a66fd"/>
<path d="M1.2 11.4 L8.3 5 L13 10.7 L17 6.2" fill="none" stroke="#ffffff" stroke-width="1.1" stroke-linejoin="round" stroke-linecap="round"/>
<circle cx="13" cy="10.7" r="1.15" fill="#ffffff"/>
</g>
<text x="27.5" y="392.7" font-size="11.2" fill="#30333c" font-weight="normal" text-anchor="start" textLength="56.6" lengthAdjust="spacingAndGlyphs" stroke="#30333c" stroke-width="0.25">TradingView</text>
</svg>
</body></html>
